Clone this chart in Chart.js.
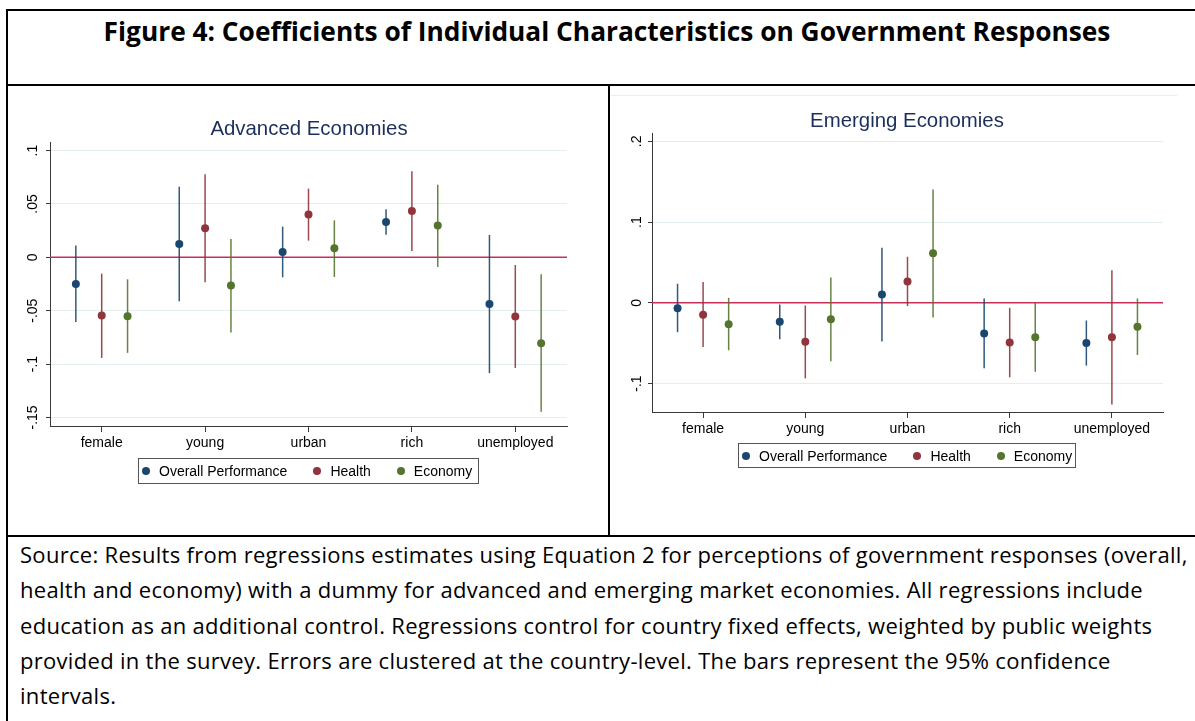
<!DOCTYPE html>
<html>
<head>
<meta charset="utf-8">
<script src="https://cdn.jsdelivr.net/npm/chart.js@4.4.0/dist/chart.umd.min.js"></script>
<style>
html,body{margin:0;padding:0;background:#fff;}
body{width:1195px;height:721px;position:relative;overflow:hidden;font-family:"Liberation Sans",Arial,sans-serif;}
.rule{position:absolute;background:#000;}
#fig-title{position:absolute;left:8px;width:1198px;top:12px;text-align:center;font-family:"Open Sans",sans-serif;font-weight:700;font-size:26.3px;line-height:38px;color:#000;white-space:nowrap;}
canvas{position:absolute;}
.ptitle{position:absolute;transform:translate(-50%,-50%);font-size:20.4px;color:#1c2f5c;white-space:nowrap;}
.legend{position:absolute;border:1px solid #555;box-sizing:border-box;display:flex;align-items:center;font-size:14px;color:#000;padding-left:3px;}
.legend .item{display:flex;align-items:center;margin-right:26px;}
.legend .item:last-child{margin-right:0;}
.legend .dot{width:8px;height:8px;border-radius:50%;margin-right:9px;}
#caption{position:absolute;left:20px;top:537px;font-family:"Open Sans",sans-serif;font-size:22px;letter-spacing:0.3px;line-height:35.3px;color:#000;white-space:nowrap;}
.faint{position:absolute;background:#ececec;}
</style>
</head>
<body>
<div class="rule" style="left:6px;top:9px;width:1189px;height:2px;"></div>
<div class="rule" style="left:6px;top:84px;width:1189px;height:2px;"></div>
<div class="rule" style="left:6px;top:9px;width:2px;height:712px;"></div>
<div class="rule" style="left:608px;top:85px;width:2px;height:451px;"></div>
<div class="rule" style="left:6px;top:535px;width:1189px;height:2px;"></div>
<div class="faint" style="left:611px;top:95px;width:566px;height:1px;"></div>

<div id="fig-title">Figure 4: Coefficients of Individual Characteristics on Government Responses</div>

<canvas id="adv" width="600" height="400" style="left:8px;top:87px;"></canvas>
<canvas id="emg" width="584" height="400" style="left:611px;top:87px;"></canvas>

<div class="ptitle" style="left:309px;top:128px;">Advanced Economies</div>
<div class="ptitle" style="left:907px;top:120px;">Emerging Economies</div>

<div class="legend" id="leg-adv" style="left:138px;top:458px;width:341px;height:26px;"></div>
<div class="legend" id="leg-emg" style="left:738px;top:443px;width:338px;height:25px;"></div>

<div id="caption">
<div>Source: Results from regressions estimates using Equation 2 for perceptions of government responses (overall,</div>
<div>health and economy) with a dummy for advanced and emerging market economies. All regressions include</div>
<div>education as an additional control. Regressions control for country fixed effects, weighted by public weights</div>
<div>provided in the survey. Errors are clustered at the country-level. The bars represent the 95% confidence</div>
<div>intervals.</div>
</div>

<script>
// Characteristics on the x axis and the three outcome series
const categories = ['female', 'young', 'urban', 'rich', 'unemployed'];
const seriesNames = ['Overall Performance', 'Health', 'Economy'];
const seriesColors = ['#1a476f', '#90353b', '#55752f'];

// Advanced economies: point estimates and 95% CI bounds
const advOverall   = [-0.0250,  0.0125,  0.0050,  0.0330, -0.0437];
const advOverallLo = [-0.0605, -0.0412, -0.0187,  0.0212, -0.1085];
const advOverallHi = [ 0.0110,  0.0661,  0.0287,  0.0449,  0.0209];
const advHealth    = [-0.0545,  0.0271,  0.0400,  0.0433, -0.0555];
const advHealthLo  = [-0.0942, -0.0234,  0.0156,  0.0059, -0.1036];
const advHealthHi  = [-0.0153,  0.0779,  0.0643,  0.0807, -0.0072];
const advEconomy   = [-0.0552, -0.0265,  0.0084,  0.0297, -0.0805];
const advEconomyLo = [-0.0895, -0.0705, -0.0184, -0.0091, -0.1447];
const advEconomyHi = [-0.0206,  0.0171,  0.0346,  0.0680, -0.0159];
const advTicks = [-0.15, -0.1, -0.05, 0, 0.05, 0.1];

// Emerging economies: point estimates and 95% CI bounds
const emgOverall   = [-0.0066, -0.0236,  0.0104, -0.0381, -0.0497];
const emgOverallLo = [-0.0364, -0.0451, -0.0480, -0.0812, -0.0778];
const emgOverallHi = [ 0.0236, -0.0021,  0.0683,  0.0054, -0.0219];
const emgHealth    = [-0.0149, -0.0484,  0.0265, -0.0493, -0.0427];
const emgHealthLo  = [-0.0547, -0.0936, -0.0041, -0.0923, -0.1259];
const emgHealthHi  = [ 0.0257, -0.0033,  0.0571, -0.0062,  0.0402];
const emgEconomy   = [-0.0265, -0.0203,  0.0613, -0.0427, -0.0298];
const emgEconomyLo = [-0.0588, -0.0725, -0.0182, -0.0853, -0.0646];
const emgEconomyHi = [ 0.0062,  0.0315,  0.1404,  0.0000,  0.0054];
const emgTicks = [-0.1, 0, 0.1, 0.2];

// Horizontal shift of each series inside a category slot
const seriesShift = [-0.25, 0, 0.25];

const AXIS_FONT = {family: '"Liberation Sans", Arial, sans-serif', size: 14};

// Stata-style tick text: drop the leading zero (".05", "-.1")
function fmtTick(v) {
  const s = String(Math.round(v * 1000) / 1000);
  return s.replace(/^(-?)0\./, '$1.');
}

// Zero reference line, confidence interval whiskers and rotated y labels
const ciPlugin = {
  id: 'ciBars',
  beforeDatasetsDraw(chart) {
    const {ctx, chartArea: a, scales: {x, y}} = chart;
    ctx.save();
    const y0 = y.getPixelForValue(0);
    ctx.strokeStyle = '#c8305a';
    ctx.lineWidth = 1.5;
    ctx.beginPath();
    ctx.moveTo(a.left, y0);
    ctx.lineTo(a.right, y0);
    ctx.stroke();
    chart.data.datasets.forEach(ds => {
      ctx.strokeStyle = ds.backgroundColor;
      ctx.globalAlpha = 0.9;
      ctx.lineWidth = 1.5;
      ds.data.forEach((p, i) => {
        const px = x.getPixelForValue(p.x);
        ctx.beginPath();
        ctx.moveTo(px, y.getPixelForValue(ds.lo[i]));
        ctx.lineTo(px, y.getPixelForValue(ds.hi[i]));
        ctx.stroke();
      });
    });
    ctx.restore();
  },
  afterDraw(chart, args, opts) {
    const {ctx, chartArea: a, scales: {y}} = chart;
    ctx.save();
    ctx.fillStyle = '#000';
    ctx.font = '14px "Liberation Sans", Arial, sans-serif';
    ctx.textAlign = 'center';
    ctx.textBaseline = 'middle';
    y.ticks.forEach(t => {
      const py = y.getPixelForValue(t.value);
      ctx.save();
      ctx.translate(a.left - opts.labelGap, py);
      ctx.rotate(-Math.PI / 2);
      ctx.fillText(fmtTick(t.value), 0, 0);
      ctx.restore();
    });
    ctx.restore();
  }
};

function buildDatasets(est, lo, hi) {
  return seriesNames.map((name, s) => ({
    label: name,
    data: est[s].map((v, i) => ({x: i + 1 + seriesShift[s], y: v})),
    lo: lo[s],
    hi: hi[s],
    backgroundColor: seriesColors[s],
    borderWidth: 0,
    pointRadius: 4,
    pointHoverRadius: 4
  }));
}

function makePanel(id, spec) {
  return new Chart(document.getElementById(id), {
    type: 'scatter',
    data: {datasets: buildDatasets(spec.est, spec.lo, spec.hi)},
    options: {
      responsive: false,
      animation: false,
      events: [],
      layout: {padding: spec.padding},
      plugins: {
        legend: {display: false},
        tooltip: {enabled: false},
        ciBars: {labelGap: spec.labelGap}
      },
      scales: {
        x: {
          type: 'linear',
          min: 0.5,
          max: categories.length + 0.5,
          afterBuildTicks: sc => { sc.ticks = categories.map((c, i) => ({value: i + 1})); },
          afterFit: sc => { sc.height = 30; },
          ticks: {
            callback: v => categories[Math.round(v) - 1],
            font: AXIS_FONT,
            color: '#000',
            padding: 3,
            maxRotation: 0,
            autoSkip: false
          },
          grid: {drawOnChartArea: false, tickLength: 6, tickColor: '#3a3a3a', tickWidth: 1},
          border: {display: true, color: '#3a3a3a', width: 1}
        },
        y: {
          type: 'linear',
          min: spec.yMin,
          max: spec.yMax,
          afterBuildTicks: sc => { sc.ticks = spec.ticks.map(v => ({value: v})); },
          afterFit: sc => { sc.width = spec.yWidth; },
          ticks: {display: false},
          grid: {color: '#e4eef0', lineWidth: 1, tickLength: 4, tickColor: '#3a3a3a', drawTicks: true},
          border: {display: true, color: '#3a3a3a', width: 1}
        }
      }
    },
    plugins: [ciPlugin]
  });
}

makePanel('adv', {
  est: [advOverall, advHealth, advEconomy],
  lo: [advOverallLo, advHealthLo, advEconomyLo],
  hi: [advOverallHi, advHealthHi, advEconomyHi],
  ticks: advTicks,
  yMin: -0.158,
  yMax: 0.108,
  yWidth: 42,
  labelGap: 17,
  padding: {left: 0, top: 55, right: 41, bottom: 31}
});

makePanel('emg', {
  est: [emgOverall, emgHealth, emgEconomy],
  lo: [emgOverallLo, emgHealthLo, emgEconomyLo],
  hi: [emgOverallHi, emgHealthHi, emgEconomyHi],
  ticks: emgTicks,
  yMin: -0.1353,
  yMax: 0.2104,
  yWidth: 41,
  labelGap: 15,
  padding: {left: 0, top: 46, right: 32, bottom: 45}
});

// Legends built from the series list
['leg-adv', 'leg-emg'].forEach(id => {
  const box = document.getElementById(id);
  seriesNames.forEach((name, s) => {
    const item = document.createElement('div');
    item.className = 'item';
    const dot = document.createElement('span');
    dot.className = 'dot';
    dot.style.background = seriesColors[s];
    const txt = document.createElement('span');
    txt.textContent = name;
    item.appendChild(dot);
    item.appendChild(txt);
    box.appendChild(item);
  });
});
</script>
</body>
</html>
